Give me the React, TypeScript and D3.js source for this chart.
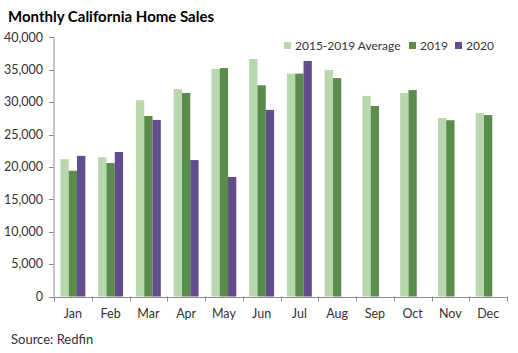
import React from "react";
import * as d3 from "d3";

const months = ["Jan","Feb","Mar","Apr","May","Jun","Jul","Aug","Sep","Oct","Nov","Dec"];
const avg1519 = [21200,21500,30300,32000,35100,36650,34400,34950,30950,31400,27550,28300];
const sales2019 = [19400,20600,27850,31400,35250,32600,34400,33700,29400,31850,27200,28000];
const sales2020: (number|null)[] = [21700,22300,27250,21050,18450,28800,36350,null,null,null,null,null];
const seriesNames = ["2015-2019 Average","2019","2020"];
const seriesColors = ["#b8d7ad","#5a8c4b","#634c8e"];
const yTicks = [0,5000,10000,15000,20000,25000,30000,35000,40000];

const W = 518, H = 353;
const left = 54, right = 507, top = 37.3, bottom = 296.5;
const font = "Lato, 'Open Sans', sans-serif";
const axisColor = "#8c8c8c";

export default function App() {
  const x0 = d3.scaleBand<string>().domain(months).range([left, right]).padding(0);
  const groupW = x0.bandwidth() * 0.66;
  const x1 = d3.scaleBand<string>().domain(seriesNames).range([0, groupW]).padding(0);
  const y = d3.scaleLinear().domain([0, 40000]).range([bottom, top]);
  const fmt = d3.format(",");
  const data = [avg1519, sales2019, sales2020];
  const offset = (x0.bandwidth() - groupW) / 2;

  const legendItems = [
    { name: seriesNames[0], x: 284 },
    { name: seriesNames[1], x: 409 },
    { name: seriesNames[2], x: 455 },
  ];

  return (
    <svg width={W} height={H} style={{ position: "absolute", left: 0, top: 0, background: "#fff" }}>
      <text x={8} y={21.5} fontFamily={font} fontWeight="bold" fontSize={15} fill="#000"
        textLength={206} lengthAdjust="spacing">
        Monthly California Home Sales
      </text>
      {/* bars */}
      {months.map((m, i) => (
        <g key={m}>
          {data.map((s, j) => {
            const v = s[i];
            if (v == null) return null;
            return (
              <rect key={j}
                x={(x0(m) as number) + offset + (x1(seriesNames[j]) as number)}
                y={y(v)}
                width={x1.bandwidth()}
                height={y(0) - y(v)}
                fill={seriesColors[j]} />
            );
          })}
        </g>
      ))}
      {/* y axis */}
      <line x1={left} x2={left} y1={y(40000)} y2={y(0)} stroke={axisColor} strokeWidth={1} />
      {yTicks.map(t => (
        <g key={t}>
          <line x1={left - 5} x2={left} y1={Math.round(y(t)) + 0.5} y2={Math.round(y(t)) + 0.5} stroke={axisColor} />
          <text x={43} y={y(t)} dy="0.35em" textAnchor="end" fontFamily={font} fontSize={12.5} fill="#333">
            {fmt(t)}
          </text>
        </g>
      ))}
      {/* x axis */}
      <line x1={left} x2={right} y1={Math.round(y(0)) + 0.5} y2={Math.round(y(0)) + 0.5} stroke={axisColor} />
      {[...months.map(m => x0(m) as number), right].map((xv, i) => (
        <line key={i} x1={Math.round(xv) + 0.5} x2={Math.round(xv) + 0.5} y1={y(0)} y2={y(0) + 5} stroke={axisColor} />
      ))}
      {months.map(m => (
        <text key={m} x={(x0(m) as number) + x0.bandwidth() / 2} y={318} textAnchor="middle"
          fontFamily={font} fontSize={12.5} fill="#333">{m}</text>
      ))}
      {/* legend */}
      {legendItems.map((l, i) => (
        <g key={l.name}>
          <rect x={l.x} y={42} width={7} height={7} fill={seriesColors[i]} />
          <text x={l.x + 11} y={45.5} dy="0.35em" fontFamily={font} fontSize={12} fill="#333">{l.name}</text>
        </g>
      ))}
      <text x={11} y={344} fontFamily={font} fontSize={13} fill="#333">Source: Redfin</text>
    </svg>
  );
}
